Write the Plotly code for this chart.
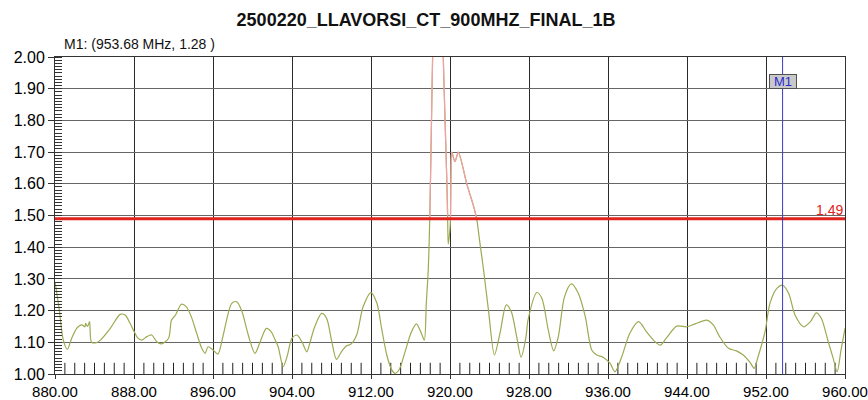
import plotly.graph_objects as go

title_text = "2500220_LLAVORSI_CT_900MHZ_FINAL_1B"

freq_mhz = [880.0, 880.4, 880.84, 881.25, 881.69, 882.2, 882.7, 883.04, 883.1, 883.3, 883.5, 883.7,
            884.2, 884.6, 885.6, 886.6, 887.1, 887.6, 887.93, 888.4, 888.8, 889.3, 889.8, 890.3,
            890.8, 891.5, 891.8, 892.2, 892.8, 893.3, 893.8, 894.35, 894.86, 895.2, 895.5, 896.0,
            896.5, 897.0, 897.9, 898.4, 898.9, 899.6, 900.25, 900.76, 901.4, 901.9, 902.3, 902.6,
            903.1, 903.5, 904.0, 904.5, 905.0, 905.5, 905.8, 906.3, 907.0, 907.5, 908.0, 908.5,
            909.0, 909.5, 910.0, 910.55, 911.2, 912.0, 912.6, 913.1, 913.6, 914.1, 914.43, 914.87,
            915.4, 916.1, 916.6, 917.1, 917.4, 917.6, 917.8, 917.95, 918.1, 918.24, 918.6, 919.0,
            919.32, 919.5, 919.66, 919.76, 919.82, 920.0, 920.05, 920.1, 920.17, 920.5, 920.84, 921.2,
            921.7, 922.4, 922.7, 923.0, 923.4, 923.9, 924.5, 925.06, 925.7, 926.2, 926.75, 927.2,
            927.7, 927.9, 928.8, 929.3, 929.95, 930.5, 930.97, 931.6, 932.3, 933.0, 933.7, 934.35,
            934.86, 935.5, 936.2, 936.7, 937.4, 938.2, 939.1, 939.9, 940.76, 941.3, 941.9, 942.96,
            943.97, 944.8, 946.0, 946.66, 947.3, 948.2, 949.0, 949.7, 950.4, 950.8, 951.2, 951.9,
            952.4, 953.1, 953.68, 954.3, 954.94, 955.8, 956.5, 957.1, 957.6, 958.3, 958.8, 959.2,
            959.6, 960.0]

vswr = [1.29, 1.21, 1.107, 1.078, 1.113, 1.144, 1.155, 1.149, 1.16, 1.15, 1.165, 1.10,
        1.099, 1.107, 1.144, 1.188, 1.186, 1.16, 1.139, 1.113, 1.107, 1.118, 1.123, 1.102,
        1.095, 1.113, 1.17, 1.186, 1.22, 1.212, 1.181, 1.128, 1.081, 1.065, 1.086, 1.076,
        1.063, 1.118, 1.223, 1.228, 1.20, 1.12, 1.065, 1.10, 1.144, 1.133, 1.107, 1.086,
        1.023, 1.055, 1.113, 1.123, 1.102, 1.07, 1.097, 1.149, 1.191, 1.176, 1.107, 1.046,
        1.07, 1.088, 1.095, 1.123, 1.212, 1.257, 1.223, 1.139, 1.06, 1.013, 1.002, 1.015,
        1.065, 1.133, 1.158, 1.128, 1.107, 1.223, 1.33, 1.49, 1.75, 2.0, 2.5, 2.5,
        2.0, 1.80, 1.63, 1.50, 1.41, 1.46, 1.49, 1.63, 1.70, 1.67, 1.70, 1.665,
        1.60, 1.528, 1.49, 1.42, 1.328, 1.20, 1.06, 1.128, 1.218, 1.197, 1.118, 1.053,
        1.118, 1.17, 1.257, 1.239, 1.139, 1.073, 1.118, 1.244, 1.284, 1.254, 1.181, 1.076,
        1.06, 1.053, 1.034, 1.007, 1.055, 1.128, 1.165, 1.133, 1.102, 1.091, 1.113, 1.151,
        1.149, 1.158, 1.17, 1.155, 1.118, 1.081, 1.073, 1.06, 1.036, 1.018, 1.055, 1.133,
        1.223, 1.27, 1.28, 1.254, 1.186, 1.149, 1.165, 1.193, 1.176, 1.102, 1.05, 1.007,
        1.076, 1.144]

limit_value = 1.49
marker_name = "M1"
marker_freq = 953.68
marker_vswr = 1.28

x_ticks = [880, 888, 896, 904, 912, 920, 928, 936, 944, 952, 960]
y_ticks = [1.0, 1.1, 1.2, 1.3, 1.4, 1.5, 1.6, 1.7, 1.8, 1.9, 2.0]

over = [v if v >= limit_value else None for v in vswr]
x_minor = [f for f in range(x_ticks[0], x_ticks[-1] + 1) if f not in x_ticks]

FONT = "Liberation Sans, Arial"

fig = go.Figure()
# minor frequency ticks (inside the bottom axis), lower half of each marker clipped by the axis
fig.add_trace(go.Scatter(x=x_minor, y=[y_ticks[0]] * len(x_minor), mode="markers",
                         marker=dict(symbol="line-ns-open", size=16, color="#222",
                                     line=dict(color="#222", width=1)),
                         cliponaxis=True, showlegend=False, hoverinfo="skip"))
fig.add_trace(go.Scatter(x=freq_mhz, y=vswr, mode="lines",
                         line=dict(color="#9aab52", width=1.2, shape="spline", smoothing=0.8),
                         showlegend=False, hoverinfo="skip"))
fig.add_trace(go.Scatter(x=freq_mhz, y=over, mode="lines", connectgaps=False,
                         line=dict(color="#f2a0a6", width=1.2, shape="spline", smoothing=0.8),
                         showlegend=False, hoverinfo="skip"))

# limit line
fig.add_shape(type="line", xref="x", yref="y", x0=x_ticks[0], x1=x_ticks[-1],
              y0=limit_value, y1=limit_value, line=dict(color="#e0231c", width=3))
fig.add_annotation(x=x_ticks[-1], y=limit_value, xref="x", yref="y", text=f"{limit_value:.2f}",
                   showarrow=False, xanchor="right", yanchor="bottom", yshift=-1,
                   font=dict(family=FONT, size=14, color="#e0231c"))

# marker
fig.add_shape(type="line", xref="x", yref="y", x0=marker_freq, x1=marker_freq,
              y0=y_ticks[0], y1=y_ticks[-1], line=dict(color="#3a3ac8", width=1))
fig.add_annotation(x=marker_freq, y=1.90, xref="x", yref="y", text=marker_name,
                   showarrow=False, xanchor="center", yanchor="bottom", yshift=0,
                   width=26, height=13,
                   bgcolor="#c9c9c9", bordercolor="#505050", borderwidth=1, borderpad=0,
                   font=dict(family=FONT, size=13, color="#2a2ad0"))

fig.add_annotation(x=7 / 790, y=(356 - 26) / 317, xref="paper", yref="paper",
                   text=f"{marker_name}: ({marker_freq:.2f} MHz, {marker_vswr:.2f} )",
                   showarrow=False, xanchor="left", yanchor="middle",
                   font=dict(family=FONT, size=14, color="#111"))

fig.update_layout(
    width=868, height=400,
    margin=dict(l=55, r=23, t=57, b=26, autoexpand=False),
    paper_bgcolor="white", plot_bgcolor="white",
    font=dict(family=FONT, color="black"),
    title=dict(text=f"<b>{title_text}</b>", x=426 / 868, xref="container", xanchor="center",
               y=1 - 19.5 / 400, yref="container", yanchor="middle",
               font=dict(family=FONT, size=18, color="#111")),
    xaxis=dict(range=[x_ticks[0], x_ticks[-1]], tickmode="array", tickvals=x_ticks,
               ticktext=[f"{v:.2f}" for v in x_ticks], ticklabeloverflow="allow",
               showgrid=True, gridcolor="#2a2a2a", gridwidth=1,
               showline=True, linecolor="#333", linewidth=1, mirror=True,
               ticks="outside", ticklen=4, tickcolor="#333",
               tickfont=dict(size=15), zeroline=False),
    yaxis=dict(range=[y_ticks[0], y_ticks[-1]], tickmode="linear", tick0=y_ticks[0],
               dtick=0.1, tickformat=".2f",
               showgrid=True, gridcolor="#666", gridwidth=1.4,
               showline=True, linecolor="#333", linewidth=1, mirror=True,
               ticks="outside", ticklen=6, tickcolor="#333",
               minor=dict(dtick=0.01, ticks="inside", ticklen=7, tickcolor="#333", tickwidth=1,
                          showgrid=False),
               tickfont=dict(size=16), zeroline=False),
)

fig.write_html("out.html", config={"displayModeBar": False},
               post_script="document.body.style.margin='0';")
